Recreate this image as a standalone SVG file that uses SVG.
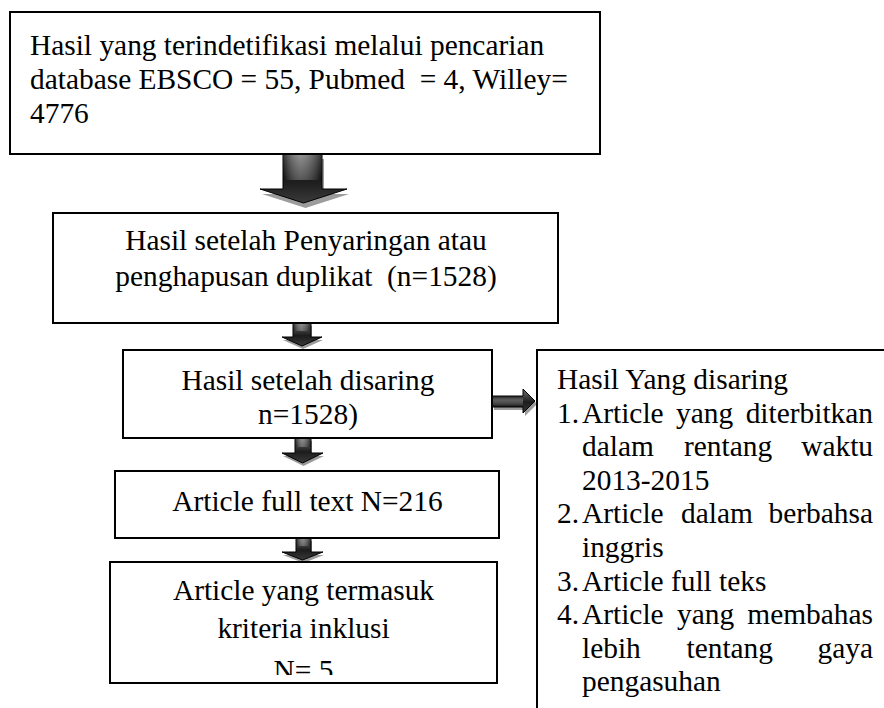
<svg xmlns="http://www.w3.org/2000/svg" width="884" height="708" viewBox="0 0 884 708">
<style>
.box{fill:#fff;stroke:#000;stroke-width:2}
.t{font-family:"Liberation Serif","Times New Roman",serif;font-size:29.4px;fill:#000}
.c{text-anchor:middle}
.e{text-anchor:end}
.arr{fill:url(#ag);stroke:#000;stroke-width:1}
.sh{fill:#9c9c9c}
.hl{fill:url(#hg)}
</style>
<defs>
<linearGradient id="ag" x1="0" y1="0" x2="0" y2="1">
<stop offset="0" stop-color="#6e6e6e"/>
<stop offset="0.55" stop-color="#1c1c1c"/>
<stop offset="1" stop-color="#3a3a3a"/>
</linearGradient>
<linearGradient id="hg" x1="0" y1="0" x2="1" y2="0">
<stop offset="0" stop-color="#000" stop-opacity="0.5"/>
<stop offset="0.45" stop-color="#fff" stop-opacity="0.25"/>
<stop offset="1" stop-color="#000" stop-opacity="0.5"/>
</linearGradient>
<linearGradient id="hgv" x1="0" y1="0" x2="0" y2="1">
<stop offset="0" stop-color="#000" stop-opacity="0.5"/>
<stop offset="0.45" stop-color="#fff" stop-opacity="0.25"/>
<stop offset="1" stop-color="#000" stop-opacity="0.5"/>
</linearGradient>
<clipPath id="c5"><rect x="111" y="563" width="385" height="112"/></clipPath>
</defs>

<g id="connectors">
  <g id="a1">
    <path class="sh" d="M285,159 H324 V194 H349 L305.5,208 L262,194 H285 Z"/>
    <path class="arr" d="M283,154 H322 V189 H347 L303.5,203 L260,189 H283 Z"/>
    <rect class="hl" x="283.5" y="154" width="38" height="26"/>
  </g>
  <g id="a2">
    <path class="sh" d="M294,326 H312 V340 H323 L303,349 L283,340 H294 Z"/>
    <path class="arr" d="M293,323 H311 V337 H322 L302,346 L282,337 H293 Z"/>
    <rect class="hl" x="293.5" y="323" width="17" height="8"/>
  </g>
  <g id="a3">
    <path class="sh" d="M296,441 H312 V456 H324 L303.5,466 L283,456 H296 Z"/>
    <path class="arr" d="M295,438 H311 V453 H323 L302.5,463 L282,453 H295 Z"/>
    <rect class="hl" x="295.5" y="438" width="15" height="9"/>
  </g>
  <g id="a4">
    <path class="sh" d="M297,541 H312 V555 H324 L303.5,563 L283,555 H297 Z"/>
    <path class="arr" d="M296,538 H311 V552 H323 L302.5,560 L282,552 H296 Z"/>
    <rect class="hl" x="296.5" y="538" width="14" height="8"/>
  </g>
  <g id="a5">
    <path class="sh" d="M494,399 H525 V392 L537,404 L525,416 V410 H494 Z"/>
    <path class="arr" d="M492,396 H523 V389 L535,401 L523,413 V407 H492 Z"/>
    <rect x="492" y="396.5" width="31" height="10" fill="url(#hgv)"/>
  </g>
</g>

<g id="n1">
  <rect class="box" x="10" y="12" width="590" height="142"/>
  <text class="t" x="30" y="55">Hasil yang terindetifikasi melalui pencarian</text>
  <text class="t" x="30" y="89" xml:space="preserve">database EBSCO = 55, Pubmed  = 4, Willey=</text>
  <text class="t" x="30" y="123">4776</text>
</g>

<g id="n2">
  <rect class="box" x="53" y="213" width="505" height="110"/>
  <text class="t c" x="306" y="250">Hasil setelah Penyaringan atau</text>
  <text class="t c" x="306" y="286" xml:space="preserve">penghapusan duplikat  (n=1528)</text>
</g>

<g id="n3">
  <rect class="box" x="123" y="350" width="369" height="88"/>
  <text class="t c" x="308" y="390">Hasil setelah disaring</text>
  <text class="t c" x="308" y="424">n=1528)</text>
</g>

<g id="n4">
  <rect class="box" x="115" y="471" width="384" height="67"/>
  <text class="t c" x="307.5" y="511">Article full text N=216</text>
</g>

<g id="n5">
  <rect class="box" x="110" y="562" width="387" height="121"/>
  <text class="t c" x="303.5" y="600">Article yang termasuk</text>
  <text class="t c" x="303.5" y="638">kriteria inklusi</text>
  <g clip-path="url(#c5)">
    <text class="t c" x="303.5" y="680">N= 5</text>
  </g>
</g>

<g id="n6">
  <rect class="box" x="537" y="350" width="370" height="380"/>
  <text class="t" x="557" y="389">Hasil Yang disaring</text>
  <text class="t" x="557" y="423">1.</text>
  <text class="t" x="582" y="423">Article</text>
  <text class="t" x="676" y="423">yang</text>
  <text class="t e" x="873" y="423">diterbitkan</text>
  <text class="t" x="582" y="456">dalam</text>
  <text class="t" x="684" y="456">rentang</text>
  <text class="t e" x="873" y="456">waktu</text>
  <text class="t" x="582" y="490">2013-2015</text>
  <text class="t" x="557" y="523">2.</text>
  <text class="t" x="582" y="523">Article</text>
  <text class="t" x="681" y="523">dalam</text>
  <text class="t e" x="873" y="523">berbahsa</text>
  <text class="t" x="582" y="557">inggris</text>
  <text class="t" x="557" y="591">3.</text>
  <text class="t" x="582" y="591">Article full teks</text>
  <text class="t" x="557" y="624">4.</text>
  <text class="t" x="582" y="624">Article</text>
  <text class="t" x="677" y="624">yang</text>
  <text class="t e" x="873" y="624">membahas</text>
  <text class="t" x="582" y="658">lebih</text>
  <text class="t" x="686.5" y="658">tentang</text>
  <text class="t e" x="873" y="658">gaya</text>
  <text class="t" x="582" y="691">pengasuhan</text>
</g>
</svg>
